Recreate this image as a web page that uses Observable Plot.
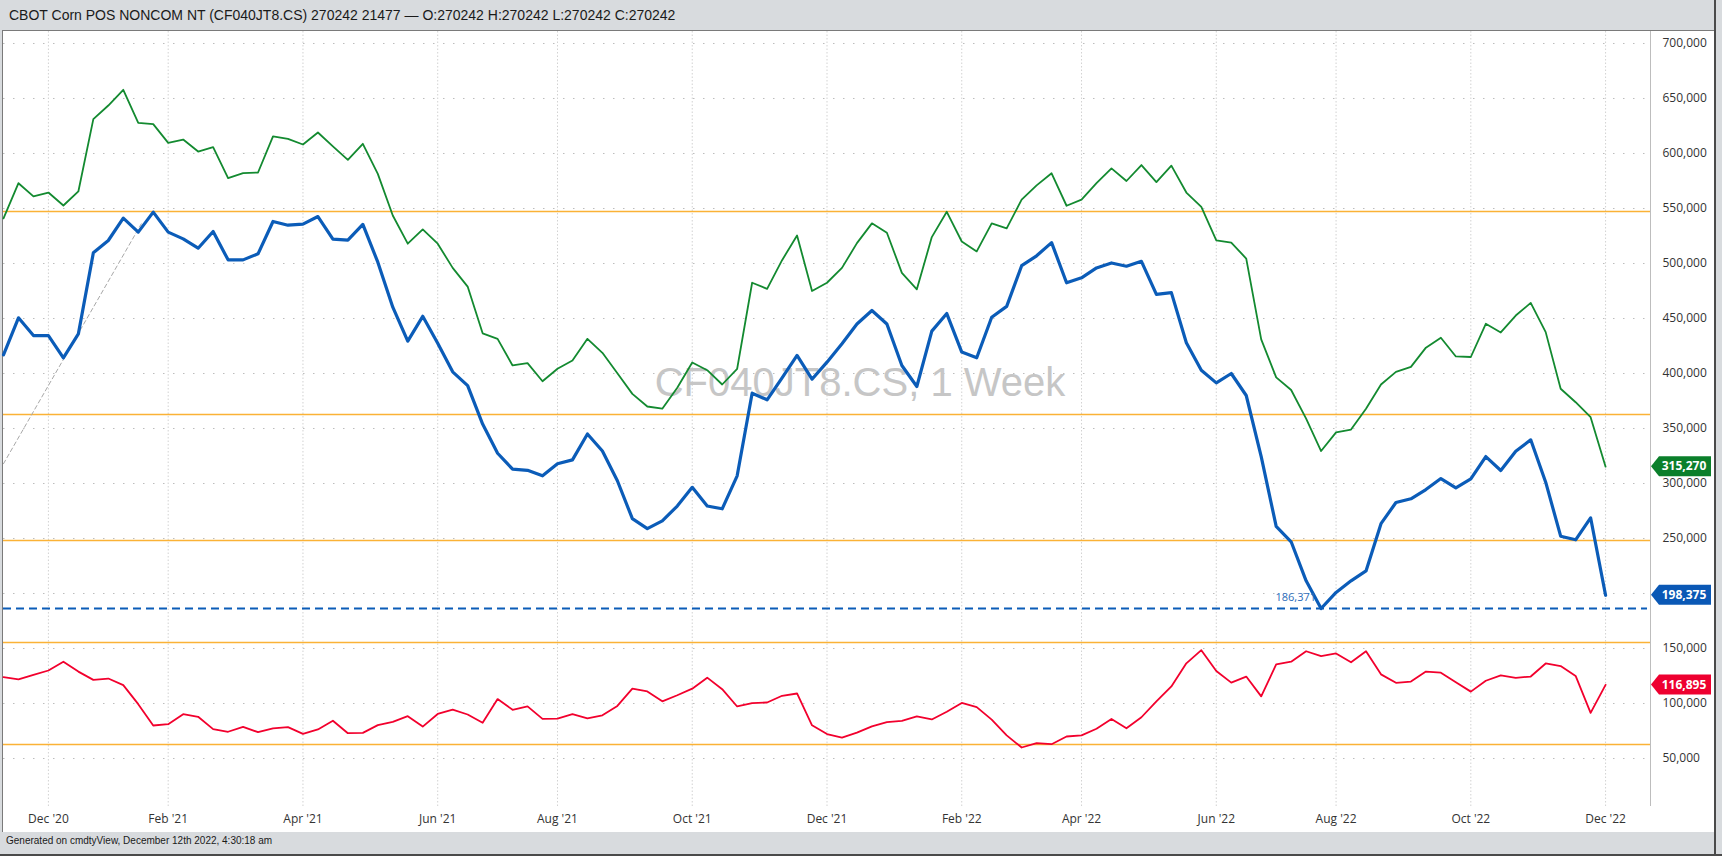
<!DOCTYPE html>
<html>
<head>
<meta charset="utf-8">
<script src="https://cdn.jsdelivr.net/npm/d3@7"></script>
<script src="https://cdn.jsdelivr.net/npm/@observablehq/plot@0.6"></script>
<style>
html,body{margin:0;padding:0;background:#fff;}
#wrap{position:relative;width:1722px;height:856px;background:#d8dbde;overflow:hidden;font-family:"Liberation Sans",Arial,sans-serif;}
#title{position:absolute;left:9px;top:7px;font-size:14px;color:#1a1a1a;white-space:nowrap;}
#panel{position:absolute;left:2px;top:30px;width:1712px;height:801px;background:#fff;border-top:1px solid #7a7a7a;border-left:1px solid #7a7a7a;}
#rline{position:absolute;left:1714px;top:0;width:2px;height:856px;background:#4a4a4a;}
#bline{position:absolute;left:0;top:854px;width:1722px;height:2px;background:#4a4a4a;}
#footer{position:absolute;left:6px;top:835px;font-size:10px;color:#1a1a1a;white-space:nowrap;}
#chart{position:absolute;left:0;top:0;}
</style>
</head>
<body>
<div id="wrap">
  <div id="title"></div>
  <div id="panel"></div>
  <div id="rline"></div>
  <div id="bline"></div>
  <div id="footer"></div>
  <div id="chart"></div>
</div>
<script>
const titleText = "CBOT Corn POS NONCOM NT (CF040JT8.CS) 270242 21477 \u2014 O:270242 H:270242 L:270242 C:270242";
const footerText = "Generated on cmdtyView, December 12th 2022, 4:30:18 am";
const watermark = "CF040JT8.CS, 1 Week";

// weekly report dates (Tuesdays), first bar and count
const firstWeek = "2020-11-17";
const weekCount = 108;

// Non-commercial long (green)
const longs = [541000,573000,561000,564500,552700,565500,631200,643600,657900,627900,
626700,609700,612700,601800,605800,577600,582100,582700,615500,613300,
608200,619100,606400,594200,608800,581500,543600,518000,531000,518000,
496000,479000,436500,431500,407300,409400,393000,404300,411800,431500,
418800,400300,381500,370000,368000,387000,410000,403000,390000,404300,
482500,477000,503000,525500,475000,482500,496000,518500,536500,528000,
491500,476500,524000,547000,520000,511000,536500,532000,558000,571000,
582000,552500,558000,573000,586500,575000,589500,574000,589000,564500,
551500,521000,519000,504500,431000,396500,385000,359000,329500,346500,
349000,368000,390000,401500,406000,423500,432500,415500,415000,445200,
437300,452700,464200,437600,386100,373900,360300,315270];

// Net position (blue)
const nets = [417000,450600,434500,434500,414200,436000,509700,520900,541200,528500,
546700,528500,522400,513900,529100,503300,503300,508800,538200,534800,
535800,542700,522100,521200,535500,501200,460300,429500,452000,427500,
401500,389000,354000,327500,313000,312000,307000,318000,321500,345000,
329500,302500,268000,259000,266000,279500,296500,279500,277000,307000,
382100,376100,396000,416400,394800,410300,427000,445000,457300,445000,
407300,388200,438500,454500,419500,414300,451200,461000,498000,507000,
519000,482500,487000,496000,500500,497500,502000,472000,473500,428000,
403000,391500,400000,380000,324500,261000,247000,211500,186371,201000,
211500,220500,263500,282700,286100,294500,304500,296100,304200,324500,
311800,329400,339700,301200,252100,248800,268800,198375];

// Non-commercial short (red)
const shorts = [124000,122000,126000,130000,138000,129000,121500,122700,116700,99400,
80000,81200,90300,87900,76700,74300,78800,73900,77300,78500,
72400,76400,84300,73000,73300,80300,83300,88500,79000,90500,
94500,90000,82500,104000,94300,97400,86000,86300,90300,86500,
89300,97800,113500,111000,102000,107500,113500,123500,113000,97300,
100400,100900,107000,109100,80200,72200,69000,73500,79200,83000,
84200,88300,85500,92500,100500,96700,85300,71000,60000,64000,
63000,70000,71000,77000,86000,77500,87500,102000,115500,136500,
148500,129500,119000,124500,106500,135500,138000,147500,143100,145500,
137500,147500,126500,118800,119900,129000,128000,119400,110800,120700,
125500,123300,124500,136400,134000,125100,91500,116895];

// horizontal reference levels (orange)
const levels = [547300, 362700, 248200, 155500, 62700];
// lowest net value marker
const lowValue = 186371;
const lowIndex = 88;
// dashed grey trend line (bar index, value)
const trendIdx = [0, 9.2];
const trendVal = [318000, 536000];

const yTicks = [50000,100000,150000,200000,250000,300000,350000,400000,450000,500000,550000,600000,650000,700000];
const tickLabels = ["Dec '20","Feb '21","Apr '21","Jun '21","Aug '21","Oct '21","Dec '21","Feb '22","Apr '22","Jun '22","Aug '22","Oct '22","Dec '22"];

const colors = {long:"#138a30", net:"#0b5cb8", short:"#f2002d", level:"#fbb236", grid:"#c8c8c8"};

document.getElementById("title").textContent = titleText;
document.getElementById("footer").textContent = footerText;

const t0 = new Date(firstWeek + "T00:00:00Z").getTime();
const dates = d3.range(weekCount).map(i => new Date(t0 + i * 7 * 864e5));
// bars are timestamped at UTC midnight, displayed in US Central time (one day earlier)
const fmt = d3.utcFormat("%b '%y");
const localLabel = i => fmt(new Date(dates[i].getTime() - 864e5));
const tickIdx = tickLabels.map(lab => dates.findIndex((d, i) => localLabel(i) === lab));
const labelOf = new Map(tickIdx.map((ix, k) => [ix, tickLabels[k]]));

const rows = dates.map((d, i) => ({i, date: d, long: longs[i], net: nets[i], short: shorts[i]}));
const trend = trendIdx.map((x, k) => ({i: x, v: trendVal[k]}));

const plot = Plot.plot({
  width: 1722,
  height: 856,
  marginLeft: 3,
  marginRight: 72,
  marginTop: 31,
  marginBottom: 50,
  style: {background: "transparent", fontFamily: "'Open Sans', 'Noto Sans', sans-serif", fontSize: "12px", color: "#333", overflow: "visible"},
  x: {domain: [0, 110], ticks: tickIdx, tickFormat: d => labelOf.get(d), tickSize: 0, tickPadding: 8, label: null},
  y: {domain: [6364, 710909], axis: "right", ticks: yTicks, tickFormat: d3.format(","), tickSize: 0, tickPadding: 12, label: null},
  marks: [
    Plot.ruleY(yTicks, {stroke: "#bdbdbd", strokeDasharray: "1.5,8.5"}),
    Plot.ruleX(tickIdx, {stroke: "#d2d2d2", strokeDasharray: "1.5,2"}),
    Plot.ruleX([110], {stroke: "#bdbdbd"}),
    Plot.ruleY(levels, {stroke: colors.level, strokeWidth: 1.6}),
    Plot.ruleY([lowValue], {x1: 0, x2: 109.8, stroke: colors.net, strokeWidth: 2, strokeDasharray: "8,5"}),
    Plot.text([watermark], {frameAnchor: "middle", dx: 33, dy: -36, fontSize: 40, fill: "#c6c6c6", fontFamily: "'Liberation Sans', Arial, sans-serif"}),
    Plot.line(trend, {x: "i", y: "v", stroke: "#a8a8a8", strokeWidth: 1, strokeDasharray: "4,3"}),
    Plot.line(rows, {x: "i", y: "long", stroke: colors.long, strokeWidth: 1.8}),
    Plot.line(rows, {x: "i", y: "short", stroke: colors.short, strokeWidth: 1.8}),
    Plot.line(rows, {x: "i", y: "net", stroke: colors.net, strokeWidth: 3.2}),
    Plot.text([lowValue], {x: lowIndex, y: d => d, text: d => d3.format(",")(d), textAnchor: "end", dx: -5, dy: -11, fill: "#2b6cb9", fontSize: 11})
  ]
});
document.getElementById("chart").appendChild(plot);

// last-value tags on the right axis
const ys = plot.scale("y");
const xs = plot.scale("x");
const svg = d3.select(plot);
const last = weekCount - 1;
const tags = [
  {v: longs[last], c: "#0b7f2b"},
  {v: nets[last], c: "#0a58b5"},
  {v: shorts[last], c: "#ee0030"}
];
const xr = xs.apply(110);
const g = svg.append("g");
tags.forEach(t => {
  const y = ys.apply(t.v);
  g.append("path")
    .attr("d", `M${xr+1},${y} L${xr+9},${y-10} L${xr+61},${y-10} L${xr+61},${y+10} L${xr+9},${y+10} Z`)
    .attr("fill", t.c);
  g.append("text")
    .attr("x", xr + 34).attr("y", y).attr("dy", "0.35em")
    .attr("text-anchor", "middle").attr("fill", "#fff")
    .attr("font-weight", "bold").attr("font-size", 12)
    .attr("font-family", "'Open Sans', 'Noto Sans', sans-serif")
    .text(d3.format(",")(t.v));
});
</script>
</body>
</html>
